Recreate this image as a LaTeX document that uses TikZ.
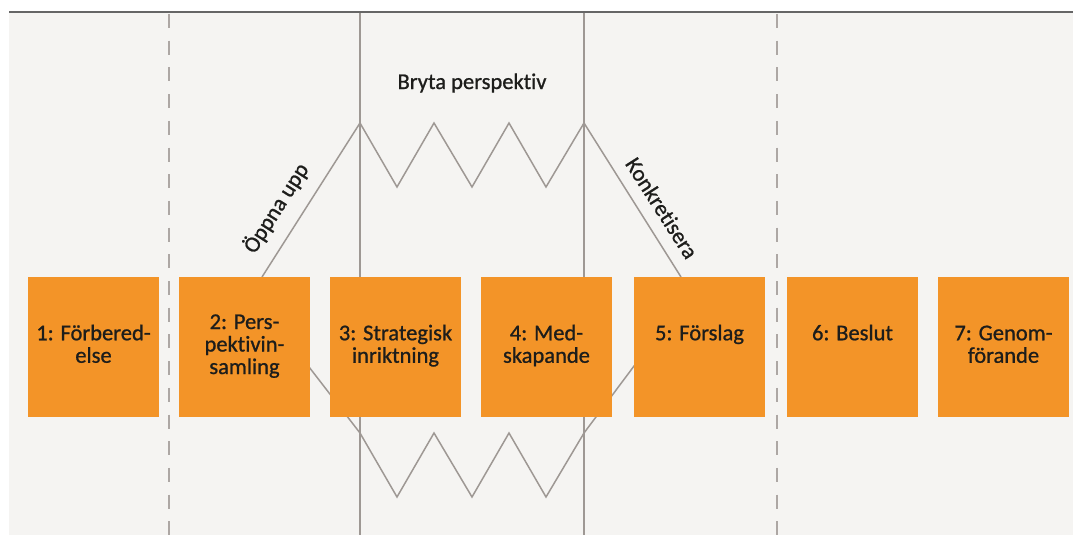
\documentclass[tikz,border=0pt]{standalone}
\usepackage{fontspec}
\setmainfont{Carlito}[Ligatures={NoCommon,NoRare}]
\newfontfamily\medfont{Carlito}[FakeBold=0.9,Ligatures={NoCommon,NoRare}]
\definecolor{bgc}{HTML}{F5F4F2}
\definecolor{orangebox}{HTML}{F39428}
\definecolor{linec}{HTML}{9E9894}
\definecolor{topc}{HTML}{666666}
\definecolor{txt}{HTML}{1D1D1B}
\begin{document}
\begin{tikzpicture}[x=1pt,y=-1pt,
  stagebox/.style={rectangle, fill=orangebox, draw=none, minimum width=131pt, minimum height=140pt,
    inner sep=0pt, align=center, text=txt, font=\medfont\fontsize{22.5}{22.5}\selectfont},
  guide/.style={draw=linec, line width=1.3pt},
  dashguide/.style={draw=linec!85, line width=1.3pt, dash pattern=on 14pt off 12.7pt},
  zig/.style={draw=linec, line width=1.5pt, line join=miter},
  lbl/.style={text=txt, font=\medfont\fontsize{22.5}{24}\selectfont, inner sep=0pt}]
\useasboundingbox (0,0) rectangle (1073,535);
\fill[white] (0,0) rectangle (1073,535);
\fill[bgc] (9,13) rectangle (1073,535);
\draw[topc, line width=2.5pt] (9,12) -- (1073,12);
% guide coordinates
\coordinate (d1t) at (169,14); \coordinate (d1b) at (169,535);
\coordinate (d2t) at (777,14); \coordinate (d2b) at (777,535);
\coordinate (s1t) at (360,13); \coordinate (s1b) at (360,535);
\coordinate (s2t) at (584,13); \coordinate (s2b) at (584,535);
\draw[dashguide] (d1t) -- (d1b);
\draw[dashguide] (d2t) -- (d2b);
\draw[guide] (s1t) -- (s1b);
\draw[guide] (s2t) -- (s2b);
% upper zigzag
\coordinate (ua) at (262,277);
\coordinate (up1) at (360,123);
\coordinate (up4) at (584,123);
\coordinate (ub) at (681,277);
\draw[zig] (ua) -- (up1) -- (397,187) -- (434,123) -- (472,187) -- (509,123) -- (546,187) -- (up4) -- (ub);
% lower zigzag
\coordinate (la) at (299,354);
\coordinate (lp1) at (360,433);
\coordinate (lp4) at (584,433);
\coordinate (lb) at (643,354);
\draw[zig] (la) -- (lp1) -- (397,497) -- (434,433) -- (472,497) -- (509,433) -- (546,497) -- (lp4) -- (lb);
% boxes
\node[stagebox] (b1) at (93.5,347) {1: Förbered-\strut\\else\strut};
\node[stagebox] (b2) at (244.5,347) {2: Pers-\strut\\pektivin-\strut\\samling\strut};
\node[stagebox] (b3) at (395.5,347) {3: Strategisk\strut\\inriktning\strut};
\node[stagebox] (b4) at (546.5,347) {4: Med-\strut\\skapande\strut};
\node[stagebox] (b5) at (699.5,347) {5: Förslag\strut\\\strut};
\node[stagebox] (b6) at (852.5,347) {6: Beslut\strut\\\strut};
\node[stagebox] (b7) at (1003.5,347) {7: Genom-\strut\\förande\strut};
% labels
\node[lbl, anchor=base] (bryta) at (472,89) {Bryta perspektiv};
\node[lbl, rotate=57.5] (oppna) at (276,208) {Öppna upp};
\node[lbl, rotate=-57.5] (konk) at (662,208) {Konkretisera};
\end{tikzpicture}
\end{document}
